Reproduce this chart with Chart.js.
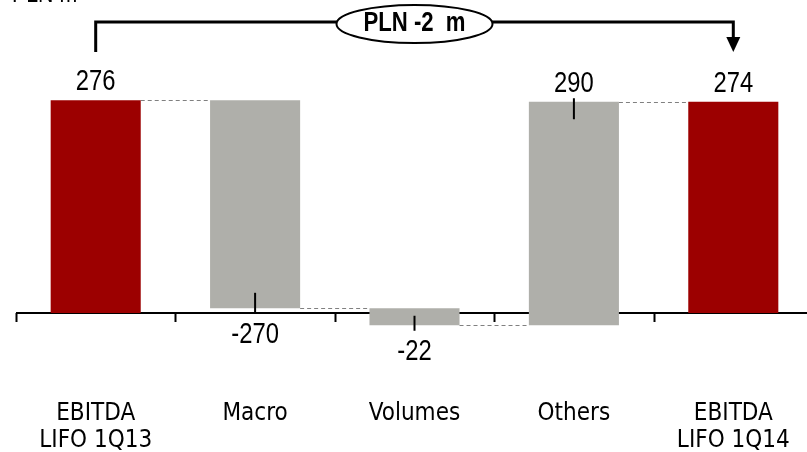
<!DOCTYPE html>
<html>
<head>
<meta charset="utf-8">
<script src="https://cdn.jsdelivr.net/npm/chart.js@4.4.0/dist/chart.umd.min.js"></script>
<style>
html,body{margin:0;padding:0;overflow:hidden;background:#fff}
#wrap{width:813px;height:452px;position:relative}
</style>
</head>
<body>
<div id="wrap"><canvas id="myChart"></canvas></div>
<script>
// data
const categories=[['EBITDA','LIFO 1Q13'],'Macro','Volumes','Others',['EBITDA','LIFO 1Q14']]
const startValue=276
const changes=[-270,-22,290]
const endValue=274
const valueLabels=['276','-270','-22','290','274']
const unitLabel='PLN m'

// style
const TICKFONT='"DejaVu Sans Condensed","Arial Narrow",sans-serif'
const red='#9C0000'
const gray='#AFAFAA'
const leaderLengths=[0,21,15,21,0]

// floating bars for the waterfall
const floating=[]
const levels=[]
let run=startValue
floating.push([0,startValue]); levels.push(run)
changes.forEach(c=>{
  floating.push([run,run+c])
  run+=c
  levels.push(run)
})
floating.push([0,endValue]); levels.push(endValue)

const colors=floating.map((d,i)=>(i===0||i===floating.length-1)?red:gray)

// arial-narrow look: liberation sans squeezed horizontally
function narrowText(ctx,txt,x,yc,size,bold,align){
  ctx.save()
  ctx.font=(bold?'bold ':'')+size+'px "Liberation Sans",Arial,sans-serif'
  ctx.translate(x,yc+0.358*size)
  ctx.scale(0.82,1)
  ctx.textAlign=align||'center'
  ctx.textBaseline='alphabetic'
  ctx.fillText(txt,0,0)
  ctx.restore()
}

const decor={
  id:'decor',
  beforeDatasetsDraw(chart){
    const ctx=chart.ctx
    const x=chart.scales.x, y=chart.scales.y
    const y0=y.getPixelForValue(0)
    const step=x.getPixelForValue(1)-x.getPixelForValue(0)
    ctx.save()
    // axis line + ticks
    ctx.strokeStyle='#000'
    ctx.lineWidth=2
    ctx.beginPath()
    ctx.moveTo(chart.chartArea.left,y0)
    ctx.lineTo(chart.width,y0)
    for(let i=0;i<categories.length;i++){
      const tx=Math.round(x.getPixelForValue(i)-step/2)+0.5
      ctx.moveTo(tx,y0)
      ctx.lineTo(tx,y0+9)
    }
    ctx.stroke()
    // dashed connectors
    const bars=chart.getDatasetMeta(0).data
    ctx.strokeStyle='#808080'
    ctx.lineWidth=1
    ctx.setLineDash([4,3])
    for(let i=0;i<bars.length-1;i++){
      const ly=Math.round(y.getPixelForValue(levels[i]))+0.5
      ctx.beginPath()
      ctx.moveTo(bars[i].x+bars[i].width/2,ly)
      ctx.lineTo(bars[i+1].x-bars[i+1].width/2,ly)
      ctx.stroke()
    }
    ctx.restore()
  },
  afterDatasetsDraw(chart){
    const ctx=chart.ctx
    const y=chart.scales.y
    const bars=chart.getDatasetMeta(0).data
    ctx.save()
    ctx.fillStyle='#000'
    ctx.strokeStyle='#000'
    bars.forEach((b,i)=>{
      const [a,e]=floating[i]
      const down=e<a
      const ey=y.getPixelForValue(e)
      const ly=down?ey+24.5:ey-20.5
      narrowText(ctx,valueLabels[i],b.x,ly,29)
      const len=leaderLengths[i]
      if(len){
        ctx.lineWidth=2
        ctx.beginPath()
        if(down){
          ctx.moveTo(b.x,ly-19); ctx.lineTo(b.x,ly-19-len)
        }else{
          ctx.moveTo(b.x,ly+17); ctx.lineTo(b.x,ly+17+len)
        }
        ctx.stroke()
      }
    })
    // bracket with arrow
    const x0=bars[0].x, x1=bars[bars.length-1].x
    const by=22
    ctx.lineWidth=3
    ctx.beginPath()
    ctx.moveTo(x0,52); ctx.lineTo(x0,by); ctx.lineTo(x1,by); ctx.lineTo(x1,38)
    ctx.stroke()
    ctx.beginPath()
    ctx.moveTo(x1-7,37); ctx.lineTo(x1+7,37); ctx.lineTo(x1,52); ctx.closePath()
    ctx.fill()
    // ellipse with total change
    const cx=bars[2].x
    ctx.beginPath()
    ctx.ellipse(cx,24,78,19,0,0,Math.PI*2)
    ctx.fillStyle='#fff'
    ctx.fill()
    ctx.lineWidth=2
    ctx.stroke()
    ctx.fillStyle='#000'
    narrowText(ctx,'PLN '+(endValue-startValue)+'  m',cx,21,27,true)
    // unit label, clipped at the top
    narrowText(ctx,unitLabel,12,2-0.358*26,26,false,'left')
    ctx.restore()
  }
}

new Chart('myChart',{
  type:'bar',
  data:{
    labels:categories,
    datasets:[{
      data:floating,
      backgroundColor:colors,
      borderWidth:0,
      borderSkipped:false,
      barPercentage:0.565,
      categoryPercentage:1
    }]
  },
  options:{
    responsive:true,
    maintainAspectRatio:false,
    animation:false,
    layout:{padding:{left:16,right:0,top:74,bottom:0}},
    plugins:{legend:{display:false},tooltip:{enabled:false}},
    scales:{
      x:{
        offset:true,
        grid:{display:false},
        border:{display:false},
        ticks:{color:'#000',font:{family:TICKFONT,size:24,lineHeight:1.12},padding:2,maxRotation:0,autoSkip:false},
        afterFit:s=>{s.height=62}
      },
      y:{display:false,min:-100,max:310}
    }
  },
  plugins:[decor]
})
</script>
</body>
</html>
